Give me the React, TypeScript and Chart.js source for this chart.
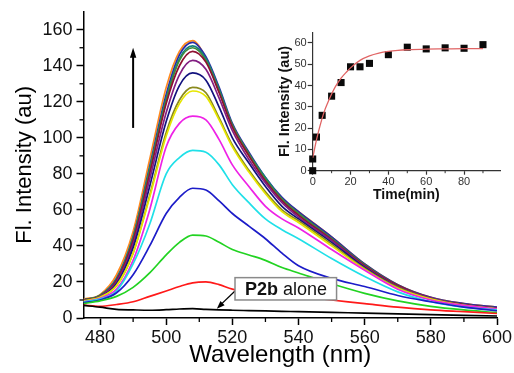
import React, { useEffect, useRef } from 'react';
import { Chart, registerables } from 'chart.js';

Chart.register(...registerables);

// ---------- main spectra data ----------
const wavelengths = [475, 480, 485, 490, 495, 500, 504, 508, 512, 516, 520, 525, 530, 535, 540, 550, 560, 570, 580, 590, 600];

const p2bAlone = [7, 6, 4.8, 4.5, 4.3, 4.6, 5, 5.2, 4.8, 4.5, 4.3, 4.1, 3.9, 3.7, 3.5, 3.1, 2.7, 2.3, 1.9, 1.5, 1.1];
const curveRed = [7.2, 6.5, 7.5, 9, 12, 15, 17.5, 19.5, 20, 18.5, 16, 15, 14, 13, 12, 10, 8, 6, 4.5, 3.5, 2.5];
const curveGreen = [8, 9.5, 12, 17, 25, 35, 42, 46, 45.5, 42, 38, 35, 32, 28, 25, 19, 13.7, 9.5, 6.5, 4.5, 3];
const curveBlue = [8.5, 10, 14, 24, 40, 58, 67, 72, 71, 65, 58, 51, 44, 36, 29, 22, 17.5, 12.5, 9, 6, 4];
const curveCyan = [9, 10.5, 15, 30, 52, 80, 89, 93, 92, 85, 74, 64, 55, 49, 44, 33, 23, 14.5, 9, 6, 4.5];
const curveMagenta = [9, 11, 16, 32, 60, 95, 108, 112, 110, 99, 85, 73, 62, 55, 50, 38, 26.5, 16, 10, 7, 5];
const curveYellow = [9.5, 11.5, 18, 36, 67, 101, 119, 126, 123, 110, 95, 81, 69, 59, 53, 40, 27, 16.5, 10.5, 7, 5];
const curveDarkYellow = [9.5, 11.5, 18, 36, 68, 103, 121, 128, 125, 111, 96, 82, 70, 60, 54, 41, 27.5, 17, 10.5, 7, 5];
const curveNavy = [9.5, 11.5, 19, 39, 73, 109, 129, 136, 132, 117, 100, 86, 73, 62, 55, 42, 28, 17, 10.5, 7, 5];
const curvePurple = [9.5, 12, 20, 41, 77, 114, 135, 143, 138, 122, 104, 88, 75, 64, 56, 43, 28.5, 17.5, 11, 7, 5.5];
const curveWine = [10, 12, 21, 43, 80, 119, 140, 148, 142, 125, 106, 90, 76, 65, 57, 43.5, 29, 18, 11, 7.5, 5.5];
const curveOlive = [10, 12.5, 21, 44, 82, 121, 143, 150, 143, 126, 107, 91, 77, 66, 58, 44, 29.5, 18, 11, 7.5, 5.5];
const curveDarkCyan = [10, 12.5, 22, 45, 83, 122, 144, 151, 144, 127, 107, 91, 78, 66, 58, 44, 29.5, 18, 11, 7.5, 5.5];
const curveRoyal = [10, 12.5, 22, 45, 84, 124, 146, 153, 145, 128, 108, 92, 78, 67, 59, 45, 30, 18.5, 11.5, 8, 6];
const curveOrange = [10.5, 13, 24, 48, 88, 128, 148, 154, 144, 126, 106, 90, 77, 66, 59, 45, 30, 18.5, 11.5, 8, 6];

const mainSeries = [
  { values: p2bAlone, color: '#000000' },
  { values: curveRed, color: '#ff1a1a' },
  { values: curveGreen, color: '#22d322' },
  { values: curveBlue, color: '#1c1cc8' },
  { values: curveCyan, color: '#20e0e8' },
  { values: curveMagenta, color: '#ee22e6' },
  { values: curveYellow, color: '#e6e600' },
  { values: curveDarkYellow, color: '#8a8a1e' },
  { values: curveNavy, color: '#12127e' },
  { values: curvePurple, color: '#821e82' },
  { values: curveWine, color: '#8e1030' },
  { values: curveOlive, color: '#3f8a3a' },
  { values: curveDarkCyan, color: '#138080' },
  { values: curveRoyal, color: '#2a2aa6' },
  { values: curveOrange, color: '#ff8a1e' },
];

const xMinorTicks = [490, 510, 530, 550, 570, 590];
const yMinorTicks = [10, 30, 50, 70, 90, 110, 130, 150];

// ---------- inset data ----------
const insetTimes = [0, 0, 2, 5, 10, 15, 20, 25, 30, 40, 50, 60, 70, 80, 90];
const insetIntensity = [0, 5.5, 15.8, 26, 35, 41.4, 48.8, 48.8, 50.4, 54.5, 58, 57.2, 57.7, 57.5, 59.2];
const fitTimes = [0, 2, 4, 6, 8, 10, 12, 15, 18, 20, 25, 30, 35, 40, 45, 50, 60, 70, 80, 90];
const fitIntensity = [6, 14.5, 21.5, 27.5, 32, 36, 39.5, 43.5, 46.5, 48.3, 51.8, 53.9, 55.2, 56, 56.5, 56.8, 57.1, 57.2, 57.3, 57.3];
const insetXMinorTicks = [10, 30, 50, 70, 90];

const FONT = "'Liberation Sans', Arial, Helvetica, sans-serif";

function minorTicks(specs: { id: string; values: number[]; length: number }[], color: string, width: number) {
  return {
    id: 'minorTicks',
    afterDraw(chart: any) {
      const ctx = chart.ctx;
      ctx.save();
      ctx.strokeStyle = color;
      ctx.lineWidth = width;
      for (const spec of specs) {
        const scale = chart.scales[spec.id];
        for (const v of spec.values) {
          const p = scale.getPixelForValue(v);
          ctx.beginPath();
          if (scale.isHorizontal()) {
            ctx.moveTo(p, scale.top);
            ctx.lineTo(p, scale.top + spec.length);
          } else {
            ctx.moveTo(scale.right, p);
            ctx.lineTo(scale.right - spec.length, p);
          }
          ctx.stroke();
        }
      }
      ctx.restore();
    },
  };
}

function arrowHead(ctx: CanvasRenderingContext2D, x1: number, y1: number, x2: number, y2: number, len: number, half: number) {
  const a = Math.atan2(y2 - y1, x2 - x1);
  ctx.beginPath();
  ctx.moveTo(x2, y2);
  ctx.lineTo(x2 - len * Math.cos(a) + half * Math.sin(a), y2 - len * Math.sin(a) - half * Math.cos(a));
  ctx.lineTo(x2 - len * Math.cos(a) - half * Math.sin(a), y2 - len * Math.sin(a) + half * Math.cos(a));
  ctx.closePath();
  ctx.fill();
}

const annotationPlugin = {
  id: 'annotations',
  afterDatasetsDraw(chart: any) {
    const ctx = chart.ctx as CanvasRenderingContext2D;
    const xs = chart.scales.x;
    const ys = chart.scales.y;
    ctx.save();
    // upward arrow
    const ax = xs.getPixelForValue(490);
    const ay1 = ys.getPixelForValue(105.5);
    const ay2 = ys.getPixelForValue(150);
    ctx.strokeStyle = '#000';
    ctx.fillStyle = '#000';
    ctx.lineWidth = 2;
    ctx.beginPath();
    ctx.moveTo(ax, ay1);
    ctx.lineTo(ax, ay2 + 8);
    ctx.stroke();
    arrowHead(ctx, ax, ay1, ax, ay2, 10, 3.2);

    // label box
    const bl = xs.getPixelForValue(520.8);
    const br = xs.getPixelForValue(551.5);
    const bt = ys.getPixelForValue(22.4);
    const bb = ys.getPixelForValue(10);
    // pointer arrow
    const px1 = bl;
    const py1 = bb - 9;
    const px2 = xs.getPixelForValue(515.3);
    const py2 = ys.getPixelForValue(5.2);
    ctx.lineWidth = 1.3;
    ctx.beginPath();
    ctx.moveTo(px1, py1);
    ctx.lineTo(px2 + 4, py2 - 4);
    ctx.stroke();
    arrowHead(ctx, px1, py1, px2, py2, 8, 3);

    ctx.fillStyle = '#fff';
    ctx.fillRect(bl, bt, br - bl, bb - bt);
    ctx.strokeStyle = '#8a8a8a';
    ctx.lineWidth = 1.5;
    ctx.strokeRect(bl, bt, br - bl, bb - bt);
    ctx.fillStyle = '#111';
    ctx.textBaseline = 'alphabetic';
    ctx.font = `bold 18px ${FONT}`;
    const tx = bl + 10;
    const ty = (bt + bb) / 2 + 6.5;
    ctx.fillText('P2b', tx, ty);
    const w = ctx.measureText('P2b').width;
    ctx.font = `18px ${FONT}`;
    ctx.fillText(' alone', tx + w, ty);
    ctx.restore();
  },
};

export default function App() {
  const mainRef = useRef<HTMLCanvasElement | null>(null);
  const insetRef = useRef<HTMLCanvasElement | null>(null);

  useEffect(() => {
    const mainChart = new Chart(mainRef.current as HTMLCanvasElement, {
      type: 'line',
      data: {
        datasets: mainSeries.map((s) => ({
          data: wavelengths.map((w, i) => ({ x: w, y: s.values[i] })),
          borderColor: s.color,
          borderWidth: 1.7,
          pointRadius: 0,
          fill: false,
          cubicInterpolationMode: 'monotone' as const,
        })),
      },
      options: {
        animation: false,
        responsive: true,
        maintainAspectRatio: false,
        devicePixelRatio: 1,
        layout: { padding: { left: 0, right: 17, top: 11.7, bottom: 0 } },
        plugins: { legend: { display: false }, tooltip: { enabled: false } },
        scales: {
          x: {
            type: 'linear',
            min: 475,
            max: 600,
            ticks: {
              stepSize: 20,
              includeBounds: false,
              autoSkip: false,
              maxRotation: 0,
              color: '#111',
              padding: 2,
              font: { family: FONT, size: 18 },
            },
            grid: { display: true, drawOnChartArea: false, drawTicks: true, tickLength: 7, tickWidth: 1.5, tickColor: '#000' },
            border: { display: true, color: '#000', width: 1.5 },
            title: {
              display: true,
              text: 'Wavelength (nm)\u00a0\u00a0\u00a0',
              color: '#000',
              font: { family: FONT, size: 24 },
              padding: { top: 0, bottom: 3 },
            },
            afterFit: (s: any) => {
              s.height = 55;
              s.paddingLeft = 0;
              s.paddingRight = 0;
            },
          },
          y: {
            type: 'linear',
            min: 0,
            max: 170,
            ticks: {
              stepSize: 20,
              includeBounds: false,
              color: '#111',
              padding: 4,
              font: { family: FONT, size: 18 },
            },
            grid: { display: true, drawOnChartArea: false, drawTicks: true, tickLength: 7, tickWidth: 1.5, tickColor: '#000' },
            border: { display: true, color: '#000', width: 1.5 },
            title: {
              display: true,
              text: 'Fl. Intensity (au)',
              color: '#000',
              font: { family: FONT, size: 22 },
              padding: { top: 11.8, bottom: 0 },
            },
            afterFit: (s: any) => {
              s.width = 83.5;
              s.paddingTop = 0;
              s.paddingBottom = 0;
            },
          },
        },
      },
      plugins: [
        minorTicks(
          [
            { id: 'x', values: xMinorTicks, length: 4 },
            { id: 'y', values: yMinorTicks, length: 4 },
          ],
          '#000',
          1.3,
        ),
        annotationPlugin,
      ],
    } as any);

    const insetChart = new Chart(insetRef.current as HTMLCanvasElement, {
      type: 'scatter',
      data: {
        datasets: [
          {
            data: fitTimes.map((t, i) => ({ x: t, y: fitIntensity[i] })),
            showLine: true,
            borderColor: '#e06464',
            borderWidth: 1.3,
            pointRadius: 0,
            cubicInterpolationMode: 'monotone' as const,
          },
          {
            data: insetTimes.map((t, i) => ({ x: t, y: insetIntensity[i] })),
            showLine: false,
            pointStyle: 'rect',
            pointRadius: 5,
            backgroundColor: '#0a0a0a',
            borderColor: '#0a0a0a',
            borderWidth: 0,
            clip: false,
          },
        ],
      },
      options: {
        animation: false,
        responsive: true,
        maintainAspectRatio: false,
        devicePixelRatio: 1,
        layout: { padding: { left: 272.7, right: 14, top: 32.3, bottom: 167.3 } },
        plugins: { legend: { display: false }, tooltip: { enabled: false } },
        scales: {
          x: {
            type: 'linear',
            min: 0,
            max: 99,
            ticks: {
              stepSize: 20,
              includeBounds: false,
              autoSkip: false,
              maxRotation: 0,
              color: '#333',
              padding: 1,
              font: { family: FONT, size: 11 },
            },
            grid: { display: true, drawOnChartArea: false, drawTicks: true, tickLength: 4, tickWidth: 1.2, tickColor: '#333' },
            border: { display: true, color: '#333', width: 1.2 },
            title: {
              display: true,
              text: 'Time(min)',
              color: '#111',
              font: { family: FONT, size: 14, weight: 'bold' },
              padding: { top: 0, bottom: 2.3 },
            },
            afterFit: (s: any) => {
              s.height = 35;
              s.paddingLeft = 0;
              s.paddingRight = 0;
            },
          },
          y: {
            type: 'linear',
            min: 0,
            max: 65,
            ticks: {
              stepSize: 10,
              includeBounds: false,
              color: '#333',
              padding: 1,
              font: { family: FONT, size: 11 },
            },
            grid: { display: true, drawOnChartArea: false, drawTicks: true, tickLength: 5, tickWidth: 1.2, tickColor: '#333' },
            border: { display: true, color: '#333', width: 1.2 },
            title: {
              display: true,
              text: 'Fl. Intensity (au)',
              color: '#111',
              font: { family: FONT, size: 14.5, weight: 'bold' },
              padding: { top: 3.6, bottom: 0 },
            },
            afterFit: (s: any) => {
              s.width = 40;
              s.paddingTop = 0;
              s.paddingBottom = 0;
            },
          },
        },
      },
      plugins: [minorTicks([{ id: 'x', values: insetXMinorTicks, length: 2.5 }], '#333', 1)],
    } as any);

    return () => {
      mainChart.destroy();
      insetChart.destroy();
    };
  }, []);

  const box: React.CSSProperties = { position: 'absolute', left: 0, top: 0, width: 514, height: 373 };
  return (
    <div style={{ position: 'absolute', left: 0, top: 0, width: 514, height: 373, background: '#fff' }}>
      <div style={box}>
        <canvas ref={mainRef} />
      </div>
      <div style={{ ...box, pointerEvents: 'none' }}>
        <canvas ref={insetRef} />
      </div>
    </div>
  );
}
